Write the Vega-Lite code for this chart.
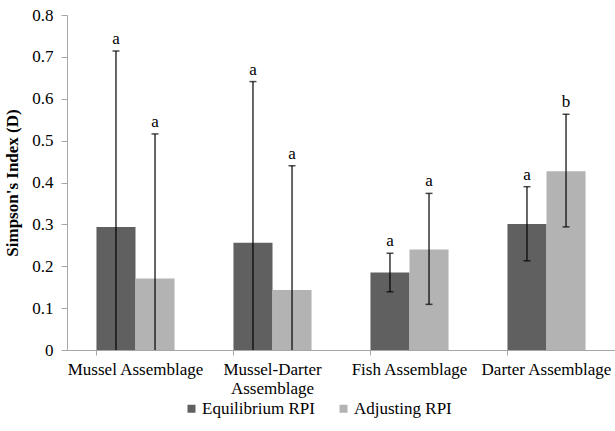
{
  "$schema": "https://vega.github.io/schema/vega-lite/v6.json",
  "width": 548,
  "height": 335,
  "autosize": {"type": "none"},
  "padding": {"left": 67, "top": 15, "right": 0, "bottom": 81},
  "background": "white",
  "config": {
    "view": {"stroke": null},
    "font": "Liberation Serif",
    "axis": {"labelFont": "Liberation Serif", "titleFont": "Liberation Serif", "labelColor": "black", "titleColor": "black"},
    "legend": {"labelFont": "Liberation Serif", "titleFont": "Liberation Serif", "labelColor": "black"},
    "text": {"font": "Liberation Serif"}
  },
  "data": {
    "values": [
      {"cat": "Mussel Assemblage", "grp": "Equilibrium RPI", "v": 0.294, "lo": 0, "hi": 0.714, "sig": "a"},
      {"cat": "Mussel Assemblage", "grp": "Adjusting RPI", "v": 0.171, "lo": 0, "hi": 0.516, "sig": "a"},
      {"cat": "Mussel-Darter Assemblage", "grp": "Equilibrium RPI", "v": 0.256, "lo": 0, "hi": 0.641, "sig": "a"},
      {"cat": "Mussel-Darter Assemblage", "grp": "Adjusting RPI", "v": 0.143, "lo": 0, "hi": 0.44, "sig": "a"},
      {"cat": "Fish Assemblage", "grp": "Equilibrium RPI", "v": 0.185, "lo": 0.139, "hi": 0.231, "sig": "a"},
      {"cat": "Fish Assemblage", "grp": "Adjusting RPI", "v": 0.24, "lo": 0.109, "hi": 0.374, "sig": "a"},
      {"cat": "Darter Assemblage", "grp": "Equilibrium RPI", "v": 0.301, "lo": 0.213, "hi": 0.39, "sig": "a"},
      {"cat": "Darter Assemblage", "grp": "Adjusting RPI", "v": 0.427, "lo": 0.294, "hi": 0.563, "sig": "b"}
    ]
  },
  "encoding": {
    "x": {
      "field": "cat", "type": "nominal",
      "sort": ["Mussel Assemblage", "Mussel-Darter Assemblage", "Fish Assemblage", "Darter Assemblage"],
      "scale": {"paddingInner": 0.43, "paddingOuter": 0.215},
      "axis": {
        "title": null, "labelAngle": 0, "labelFontSize": 17, "labelPadding": 6, "labelFont": "Liberation Serif",
        "bandPosition": 0, "domainColor": "#a6a6a6", "tickColor": "#a6a6a6", "tickSize": 5,
        "labelExpr": "datum.value == 'Mussel-Darter Assemblage' ? ['Mussel-Darter', 'Assemblage'] : datum.value",
        "labelLineHeight": 19, "labelBaseline": "top"
      }
    },
    "xOffset": {"field": "grp", "type": "nominal", "sort": ["Equilibrium RPI", "Adjusting RPI"]}
  },
  "layer": [
    {
      "mark": {"type": "bar"},
      "encoding": {
        "y": {
          "field": "v", "type": "quantitative",
          "scale": {"domain": [0, 0.8]},
          "axis": {
            "title": "Simpson's Index (D)", "titleFontSize": 17, "titleFontWeight": "bold", "titlePadding": 10,
            "titleFont": "Liberation Serif", "labelFont": "Liberation Serif",
            "values": [0, 0.1, 0.2, 0.3, 0.4, 0.5, 0.6, 0.7, 0.8], "format": ".1~f",
            "labelFontSize": 17, "grid": false, "domainColor": "#a6a6a6", "tickColor": "#a6a6a6", "tickSize": 6,
            "labelPadding": 8
          }
        },
        "color": {
          "field": "grp", "type": "nominal", "sort": ["Equilibrium RPI", "Adjusting RPI"],
          "scale": {"domain": ["Equilibrium RPI", "Adjusting RPI"], "range": ["#606060", "#b3b3b3"]},
          "legend": {
            "title": null, "orient": "none", "direction": "horizontal", "legendX": 116, "legendY": 385,
            "labelFont": "Liberation Serif",
            "symbolType": "square", "symbolSize": 64, "labelFontSize": 17, "columnPadding": 20, "symbolStrokeWidth": 0, "labelOffset": 2
          }
        }
      }
    },
    {
      "mark": {"type": "rule", "color": "black", "strokeWidth": 1.2},
      "encoding": {"y": {"field": "lo", "type": "quantitative"}, "y2": {"field": "hi"}}
    },
    {
      "mark": {"type": "tick", "color": "black", "size": 7, "thickness": 1.5},
      "encoding": {"y": {"field": "hi", "type": "quantitative"}}
    },
    {
      "transform": [{"filter": "datum.lo > 0"}],
      "mark": {"type": "tick", "color": "black", "size": 7, "thickness": 1.5},
      "encoding": {"y": {"field": "lo", "type": "quantitative"}}
    },
    {
      "mark": {"type": "text", "baseline": "bottom", "dy": -3, "fontSize": 17, "font": "Liberation Serif", "color": "black"},
      "encoding": {"y": {"field": "hi", "type": "quantitative"}, "text": {"field": "sig"}}
    }
  ]
}
